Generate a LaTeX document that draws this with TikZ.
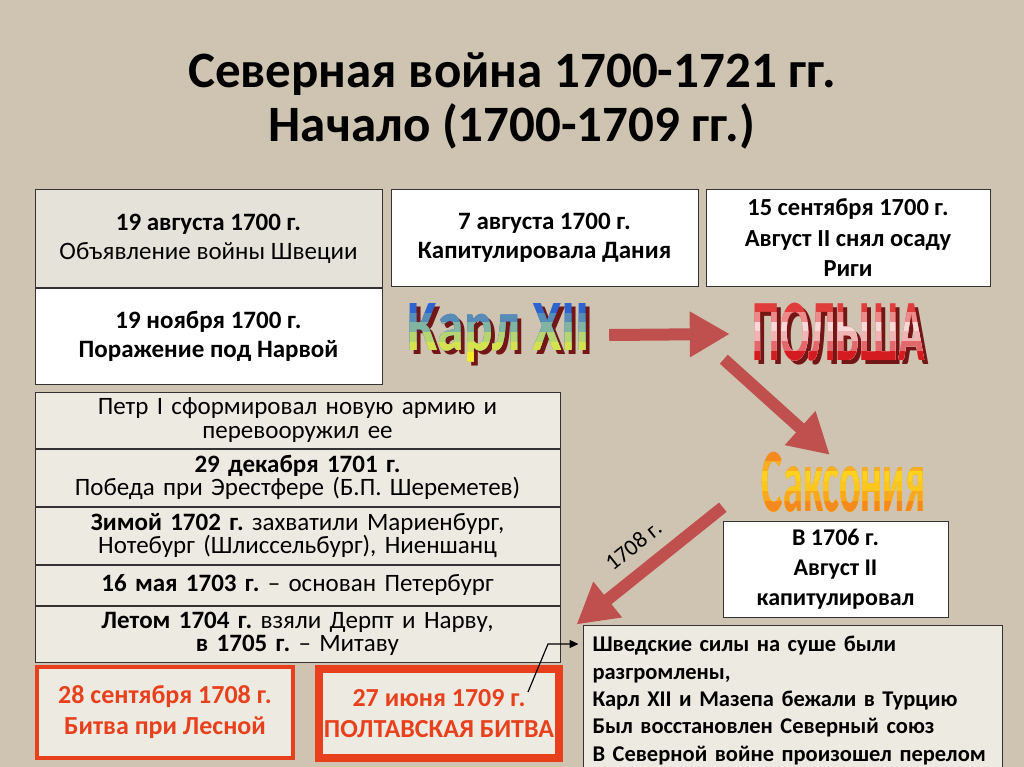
\documentclass[tikz,border=0pt]{standalone}
\usepackage{fontspec}
\setmainfont{Carlito}
\usepackage{graphicx}
\usepackage{tikz}
\usetikzlibrary{arrows.meta, calc, positioning}

\definecolor{linen}{RGB}{207,196,177}
\definecolor{boxgray}{RGB}{229,227,217}
\definecolor{boxbeige}{RGB}{237,234,225}
\definecolor{arrowred}{RGB}{192,80,77}
\definecolor{battlered}{RGB}{232,64,28}
\definecolor{karltop}{RGB}{45,100,205}
\definecolor{karlmid}{RGB}{150,200,150}
\definecolor{karlbot}{RGB}{245,238,40}
\definecolor{poltop}{RGB}{225,60,60}
\definecolor{polbot}{RGB}{212,28,32}
\definecolor{saxout}{RGB}{244,138,30}
\definecolor{saxmid}{RGB}{255,228,30}
\definecolor{maroon}{RGB}{115,22,22}

\tikzset{
  card/.style={draw=black!80, line width=1pt, align=center, inner sep=2pt,
    font=\fontsize{25}{29}\selectfont},
  whitecard/.style={card, fill=white},
  graycard/.style={card, fill=boxgray},
  rowcard/.style={card, fill=boxbeige, minimum width=525pt, text width=515pt,
    font=\fontsize{25}{23.5}\selectfont},
  battle/.style={draw=battlered, fill=boxbeige, align=center, text=battlered,
    font=\fontsize{26}{31}\selectfont\bfseries},
  bigarrow/.style={arrowred, line width=12pt, -{Triangle[width=43pt,length=40pt]}},
  artframe/.style={inner sep=0pt},
}

% WordArt: name, x/y, width, height, text, top, middle, bottom colour
\newcommand{\artword}[8]{%
  \node[artframe, minimum width=#3pt, minimum height=#4pt] (#1) at (#2) {};
  \foreach \k in {0,...,5} {
    \begin{scope}
      \clip ($(#1.north west)+(0,\k*#4/6)$) rectangle (#1.south east);
      \ifnum\k<3
        \pgfmathsetmacro{\part}{\k*40}
        \node[artframe, text=#7!\part!#6] at (#1) {\resizebox*{#3pt}{#4pt}{\bfseries #5}};
      \else
        \pgfmathsetmacro{\part}{(\k-2)*33.3}
        \node[artframe, text=#8!\part!#7] at (#1) {\resizebox*{#3pt}{#4pt}{\bfseries #5}};
      \fi
    \end{scope}
  }
}

\begin{document}
\frenchspacing
\begin{tikzpicture}[x=1pt, y=-1pt]
    % Background
    \fill[linen] (0,0) rectangle (1024,767);
    \useasboundingbox (0,0) rectangle (1024,767);

    % Title
    \node[font=\fontsize{51}{54}\selectfont\bfseries, align=center] (title) at (512,101)
        {Северная война 1700-1721 гг.\\Начало (1700-1709 гг.)};

    % Top row
    \node[graycard, minimum width=347pt, minimum height=97pt] (declare) at (208.5,238.5)
        {\textbf{19 августа 1700 г.}\\Объявление войны Швеции};
    \node[whitecard, minimum width=347pt, minimum height=96pt, below=0pt of declare] (narva)
        {\textbf{19 ноября 1700 г.}\\\textbf{Поражение под Нарвой}};
    \node[whitecard, minimum width=307pt, minimum height=96pt] (denmark) at (544.5,238)
        {\textbf{7 августа 1700 г.}\\\textbf{Капитулировала Дания}};
    \node[whitecard, minimum width=284pt, minimum height=96pt, font=\fontsize{24.5}{30.5}\selectfont\bfseries] (riga) at (848,238)
        {15 сентября 1700 г.\\Август II снял осаду\\Риги};

    % Left column (1700-1705)
    \node[rowcard, minimum height=56pt] (army) at (297.5,420)
        {Петр I сформировал новую армию и\\перевооружил ее};
    \node[rowcard, minimum height=57pt, below=0pt of army] (erestfer)
        {\textbf{29 декабря 1701 г.}\\Победа при Эрестфере (Б.П. Шереметев)};
    \node[rowcard, minimum height=57pt, below=0pt of erestfer] (winter)
        {\textbf{Зимой 1702 г.} захватили Мариенбург,\\Нотебург (Шлиссельбург), Ниеншанц};
    \node[rowcard, minimum height=40pt, below=0pt of winter] (piter)
        {\textbf{16 мая 1703 г.} -- основан Петербург};
    \node[rowcard, minimum height=56pt, below=0pt of piter] (derpt)
        {\textbf{Летом 1704 г.} взяли Дерпт и Нарву,\\\textbf{в 1705 г.} -- Митаву};

    % Battles
    \node[battle, line width=4pt, minimum width=256pt, minimum height=91pt] (lesnaya) at (165,712.5)
        {28 сентября 1708 г.\\Битва при Лесной};
    \node[battle, line width=8pt, minimum width=240pt, minimum height=89pt] (poltava) at (439,713.5)
        {27 июня 1709 г.\\ПОЛТАВСКАЯ БИТВА};

    % Saxony and the outcome
    \node[whitecard, minimum width=225pt, minimum height=96pt, font=\fontsize{24}{30}\selectfont\bfseries] (saxcap) at (835.5,569)
        {В 1706 г.\\Август II\\капитулировал};
    \node[card, fill=boxbeige, minimum width=419pt, minimum height=151pt, text width=400pt, inner xsep=9.5pt,
        align=left, font=\fontsize{22.5}{27.3}\selectfont\bfseries] (result) at (792.5,700.5)
        {Шведские силы на суше были\\разгромлены,\\Карл XII и Мазепа бежали в Турцию\\Был восстановлен Северный союз\\В Северной войне произошел перелом};

    % WordArt labels (shadows first)
    \node[artframe, text=maroon] (karlshadow) at (503,337) {\resizebox*{182pt}{59pt}{\bfseries Карл XII}};
    \node[artframe, text=maroon] (polshadow) at (843,336) {\resizebox*{172pt}{58pt}{\bfseries ПОЛЬША}};
    \artword{karl}{499,333}{182}{59}{Карл XII}{karltop}{karlmid}{karlbot}
    \artword{poland}{839,332}{172}{58}{ПОЛЬША}{poltop}{white}{polbot}
    \artword{saxony}{843.5,482}{163}{60}{Саксония}{saxout}{saxmid}{saxout}

    % Big arrows
    \draw[bigarrow] ([xshift=19pt,yshift=-2pt]karl.east) -- ([xshift=-23pt,yshift=-2pt]poland.west);
    \draw[bigarrow] ([xshift=-29pt,yshift=2pt]poland.south west) -- ([xshift=68pt,yshift=-3pt]saxony.north west);
    \draw[bigarrow] ([xshift=-39pt,yshift=5pt]saxony.south west) -- ([xshift=-6pt]result.north west)
        node[midway, sloped, above=9pt, text=black, font=\fontsize{23}{23}\selectfont] (year) {1708 г.};

    % Pointer from Poltava to the outcome
    \coordinate (pointer) at (528,692);
    \coordinate (kink) at (548,644);
    \draw[line width=1.2pt, -{Triangle[width=8pt,length=9pt]}, shorten >=4pt]
        (pointer) -- (kink) -- (result.west |- kink);
\end{tikzpicture}
\end{document}
